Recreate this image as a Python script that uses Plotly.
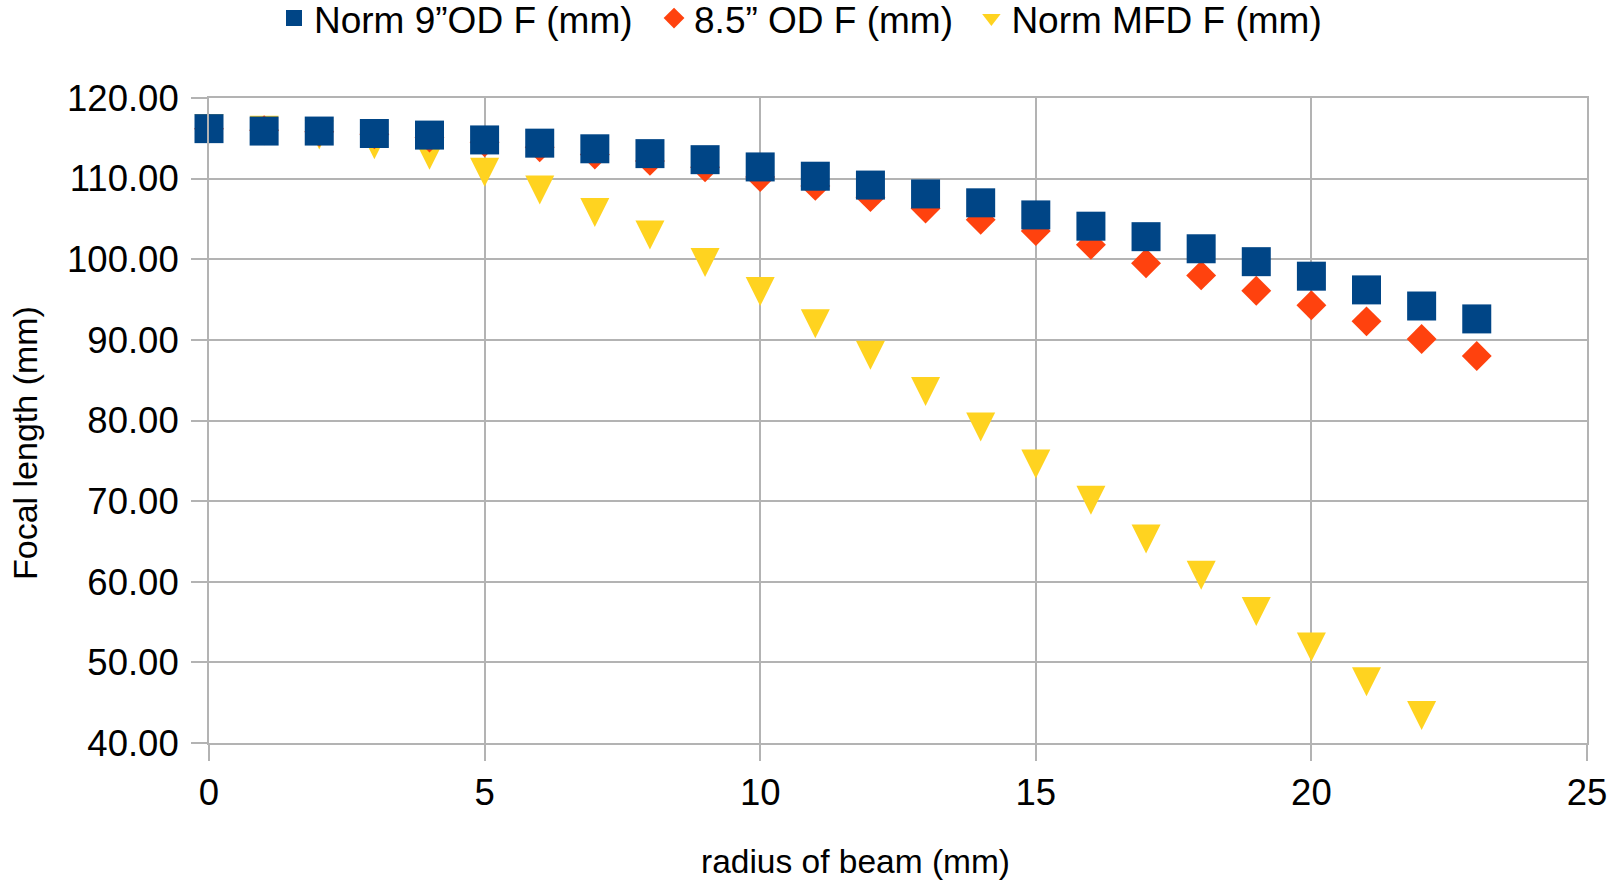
import plotly.graph_objects as go

radius = list(range(0, 24))
norm_9od = [116.2, 115.9, 115.9, 115.6, 115.4, 114.8, 114.4, 113.7, 113.1, 112.35, 111.45, 110.3,
            109.2, 108.1, 107.0, 105.5, 104.1, 102.8, 101.3, 99.7, 97.9, 96.2, 94.2, 92.6]
od_85 = [116.2, 116.0, 115.8, 115.5, 115.1, 114.5, 113.9, 113.0, 112.2, 111.4, 110.2, 109.1,
         107.7, 106.3, 104.9, 103.5, 101.8, 99.5, 98.0, 96.1, 94.3, 92.3, 90.1, 88.0]
radius_mfd = list(range(0, 23))
norm_mfd = [116.2, 116.0, 115.4, 114.2, 112.9, 110.8, 108.6, 105.8, 103.0, 99.6, 96.0, 92.0,
            88.1, 83.6, 79.2, 74.6, 70.1, 65.3, 60.8, 56.3, 51.9, 47.6, 43.4]

names = ["Norm 9\u201dOD F (mm)", "8.5\u201d OD F (mm)", "Norm MFD F (mm)"]
colors = ["#004586", "#ff420e", "#ffd320"]

FONT = "Liberation Sans, Arial, sans-serif"
GRID = "#b3b3b3"
NB = "\u00a0"
HS = "\u200a"

fig = go.Figure()
# plotted triangles (centered down-pointing triangle, equal width/height)
fig.add_trace(go.Scatter(x=radius_mfd, y=norm_mfd, mode="markers", name=names[2], showlegend=False,
                         legendgroup="mfd", cliponaxis=False,
                         marker=dict(symbol="arrow-down", size=29, standoff=14.5, color=colors[2],
                                     line=dict(width=0))))
fig.add_trace(go.Scatter(x=radius, y=od_85, mode="markers", name=names[1] + NB + HS, legendrank=2,
                         cliponaxis=False,
                         marker=dict(symbol="diamond", size=23, color=colors[1], line=dict(width=0))))
fig.add_trace(go.Scatter(x=radius, y=norm_9od, mode="markers", name=names[0] + NB + HS + HS,
                         legendrank=1, cliponaxis=False,
                         marker=dict(symbol="square", size=29, color=colors[0], line=dict(width=0))))
# legend entry for the triangle series
fig.add_trace(go.Scatter(x=[None], y=[None], mode="markers", name=names[2], legendrank=3,
                         legendgroup="mfd",
                         marker=dict(symbol="triangle-down", size=16, color=colors[2],
                                     line=dict(width=0))))

fig.update_layout(
    width=1619, height=883,
    margin=dict(l=209, r=32, t=98, b=140),
    paper_bgcolor="white", plot_bgcolor="white",
    font=dict(family=FONT, size=36, color="black"),
    showlegend=True,
    legend=dict(orientation="h", xref="container", yref="container",
                x=274 / 1619, xanchor="left", y=0.979, yanchor="middle",
                font=dict(size=37), bgcolor="rgba(0,0,0,0)"),
    xaxis=dict(range=[0, 25], dtick=5, tick0=0, showgrid=True, gridcolor=GRID, gridwidth=2,
               zeroline=False, showline=True, linecolor=GRID, linewidth=2, mirror=True,
               ticks="outside", ticklen=16, tickwidth=2, tickcolor=GRID,
               tickfont=dict(size=36.5), ticklabelstandoff=0),
    yaxis=dict(range=[40, 120], dtick=10, tick0=40, tickformat=".2f", showgrid=True, gridcolor=GRID,
               gridwidth=2, zeroline=False, showline=True, linecolor=GRID, linewidth=2, mirror=True,
               ticks="outside", ticklen=16, tickwidth=2, tickcolor=GRID,
               tickfont=dict(size=36.5), ticklabelstandoff=5),
    annotations=[
        dict(text="radius of beam (mm)", xref="paper", yref="paper", x=0.4695, y=-0.184,
             xanchor="center", yanchor="middle", showarrow=False, font=dict(size=33.5)),
        dict(text="Focal length (mm)", xref="paper", yref="paper", x=-0.134, y=0.4656,
             xanchor="center", yanchor="middle", textangle=-90, showarrow=False, font=dict(size=34)),
    ],
)

fig.write_html("out.html")
